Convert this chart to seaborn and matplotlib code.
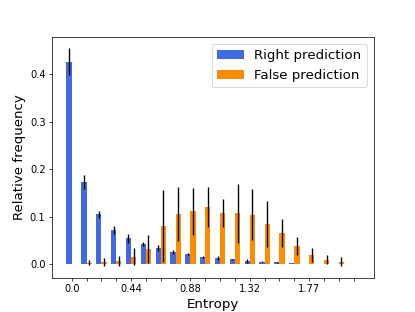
import numpy as np
import pandas as pd
import seaborn as sns
import matplotlib
matplotlib.use('Agg')
import matplotlib.pyplot as plt

# Relative frequency per entropy bin (20 bins)
right_freq = [0.427, 0.173, 0.105, 0.072, 0.054, 0.042, 0.034, 0.025, 0.021, 0.0155,
              0.0127, 0.010, 0.0063, 0.005, 0.0035, 0.002, 0.0007, 0.0003, 0.0, 0.0]
right_err = [0.0285, 0.014, 0.007, 0.008, 0.009, 0.005, 0.006, 0.004, 0.002, 0.002,
             0.004, 0.001, 0.004, 0.001, 0.001, 0.001, 0.0, 0.0, 0.0, 0.0]
false_freq = [0.0, 0.003, 0.004, 0.006, 0.0155, 0.031, 0.080, 0.106, 0.111, 0.120,
              0.108, 0.107, 0.1035, 0.0845, 0.0655, 0.038, 0.019, 0.0085, 0.005, 0.0]
false_err = [0.0, 0.005, 0.008, 0.010, 0.0175, 0.030, 0.076, 0.057, 0.049, 0.042,
             0.030, 0.062, 0.054, 0.049, 0.029, 0.019, 0.014, 0.0095, 0.009, 0.0]

# Only every 4th bin gets a label
tick_labels = ['0.0', '', '', '', '0.44', '', '', '', '0.88', '', '', '',
               '1.32', '', '', '', '1.77', '', '', '']

series = ['Right prediction', 'False prediction']
colors = ['royalblue', 'darkorange']

n_bins = len(right_freq)
df = pd.DataFrame({
    'bin': list(range(n_bins)) * 2,
    'freq': right_freq + false_freq,
    'err': right_err + false_err,
    'kind': [series[0]] * n_bins + [series[1]] * n_bins,
})

fig, ax = plt.subplots(figsize=(415 / 65, 312 / 65), dpi=65)
sns.barplot(data=df, x='bin', y='freq', hue='kind', hue_order=series,
            palette=colors, saturation=1, width=0.7, errorbar=None, ax=ax)

# Error bars on top of each bar
errs = [right_err, false_err]
for container, err in zip(ax.containers, errs):
    xs = [p.get_x() + p.get_width() / 2 for p in container.patches]
    hs = [p.get_height() for p in container.patches]
    ax.errorbar(xs, hs, yerr=err, fmt='none', ecolor='black', elinewidth=1.5)

ax.set_xticks(range(n_bins))
ax.set_xticklabels(tick_labels)
ax.set_xlim(-1.335, n_bins + 0.335)
ax.set_ylim(-0.029, 0.478)
ax.set_yticks([0.0, 0.1, 0.2, 0.3, 0.4])
ax.tick_params(labelsize=11)
ax.set_xlabel('Entropy', fontsize=14.8)
ax.set_ylabel('Relative frequency', fontsize=14.8)
ax.legend(loc='upper right', fontsize=14.8)

plt.savefig('out.png', dpi=65)
